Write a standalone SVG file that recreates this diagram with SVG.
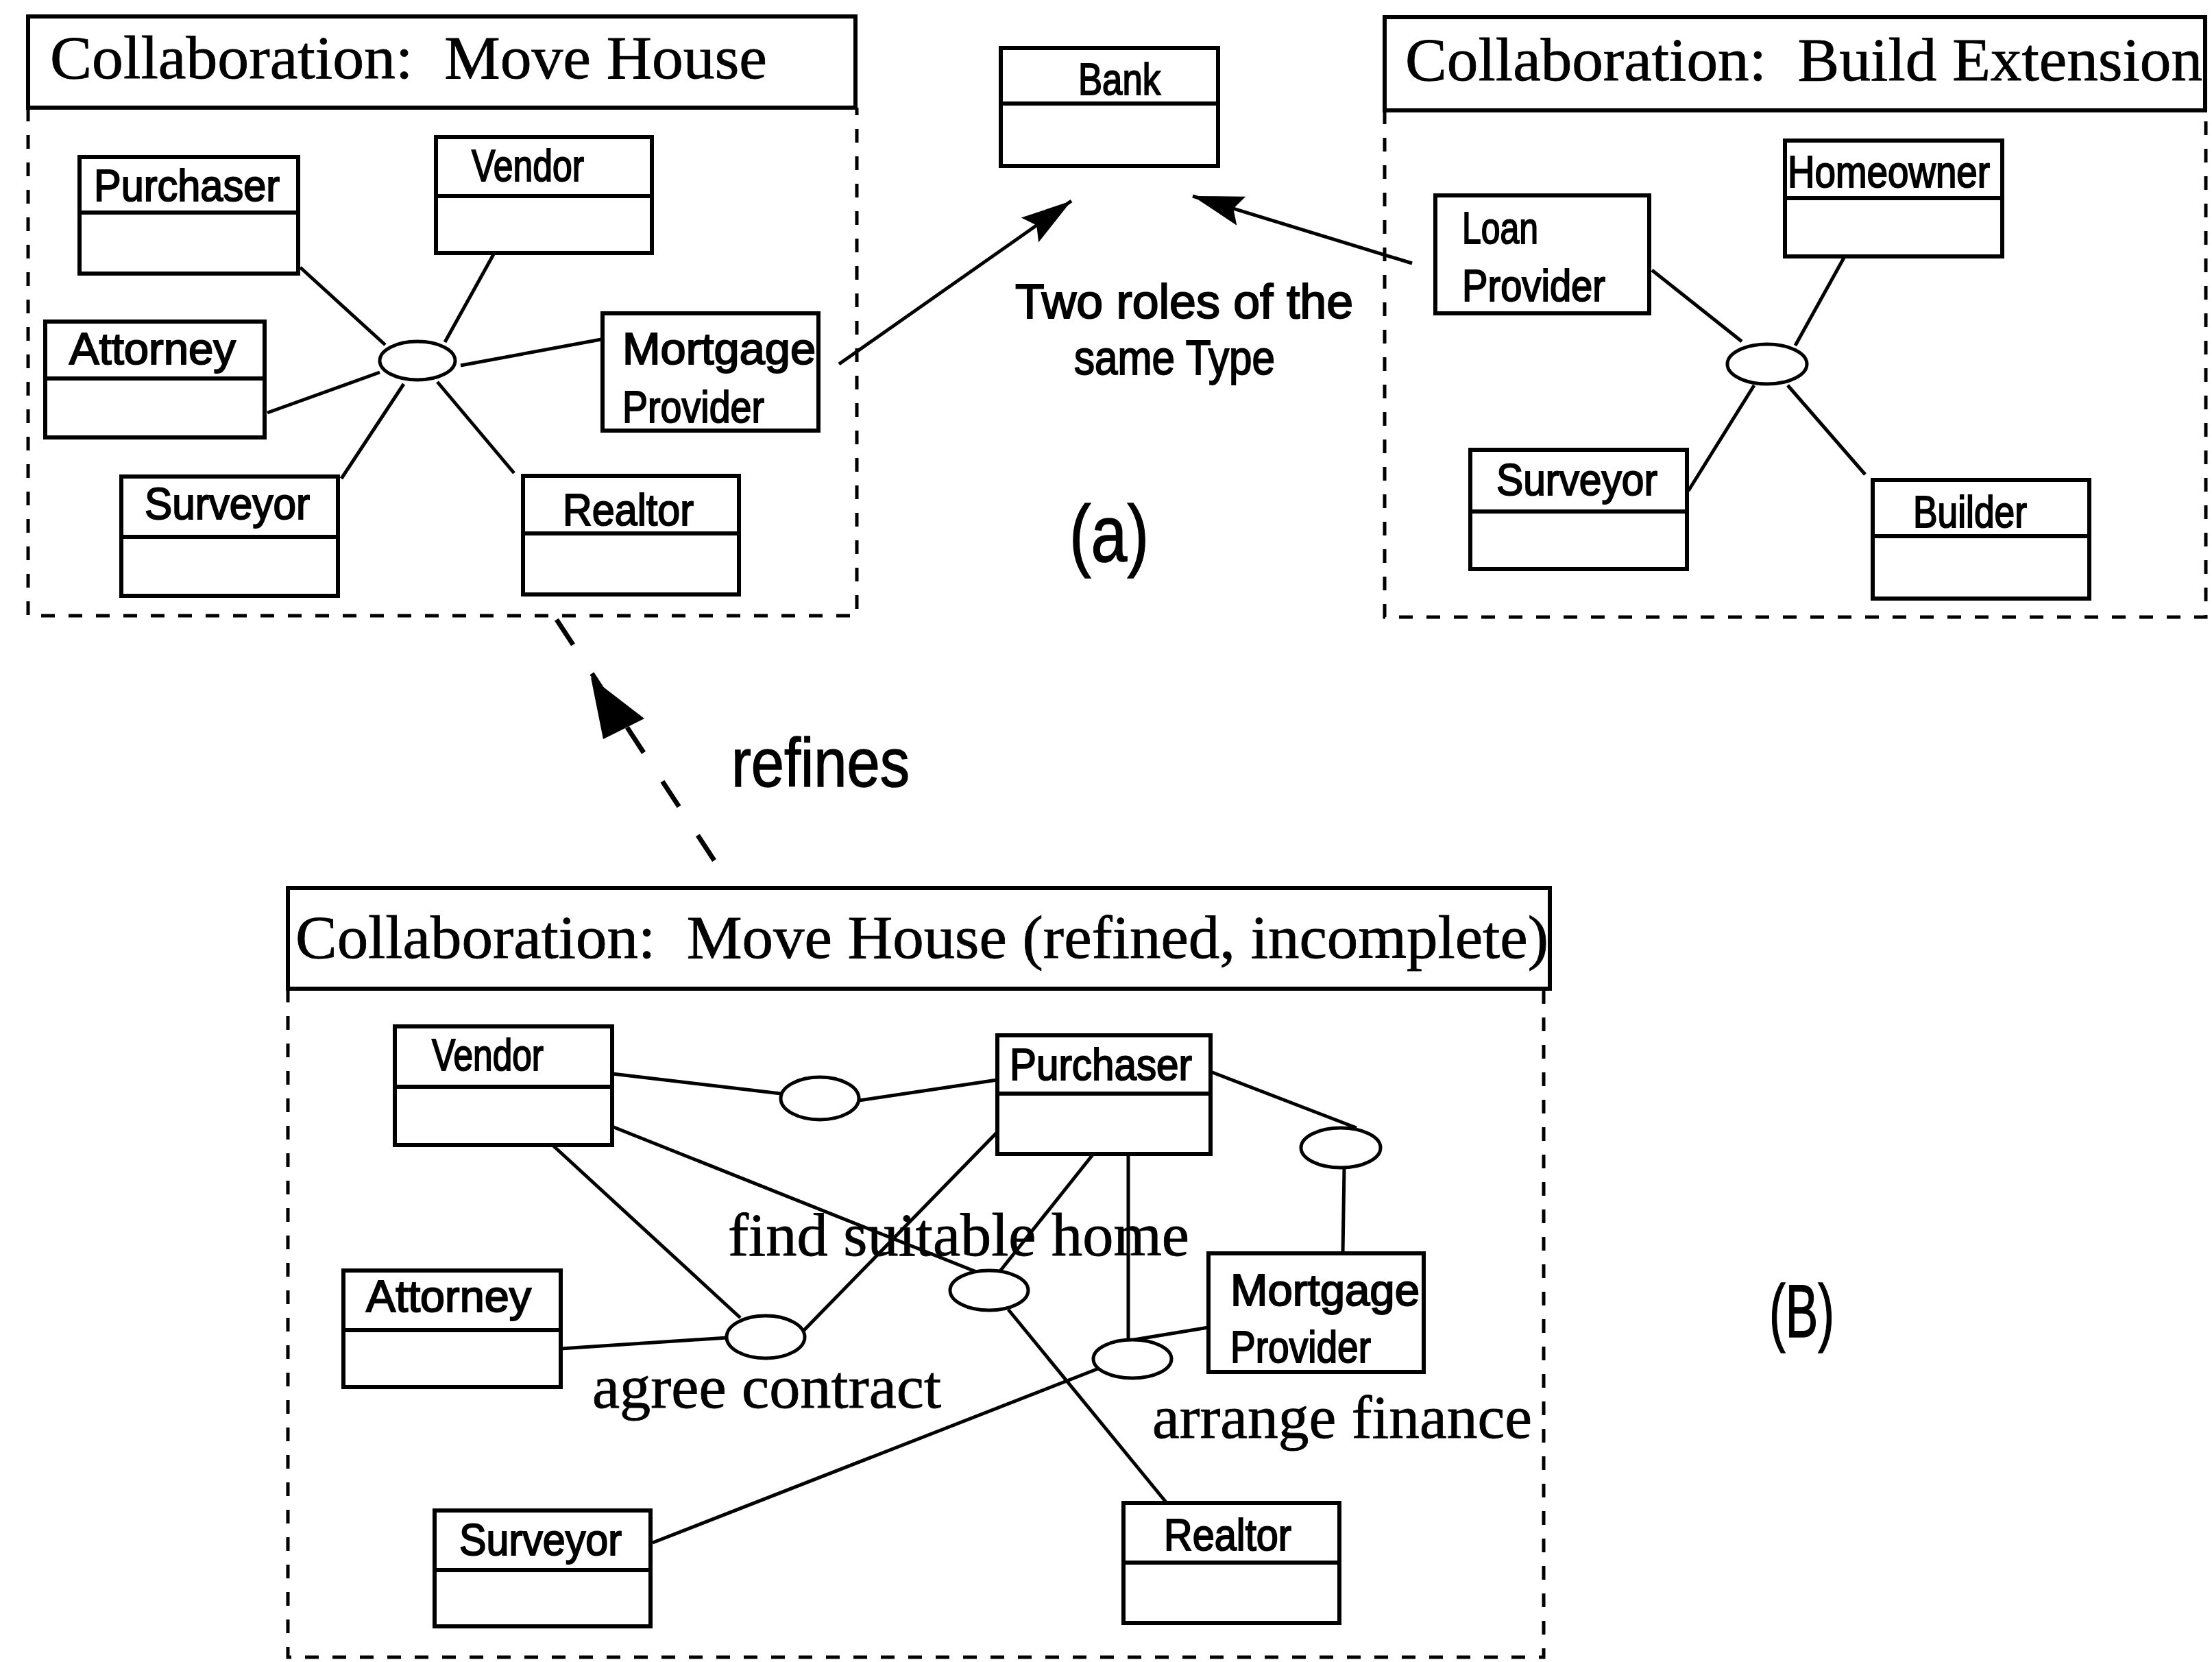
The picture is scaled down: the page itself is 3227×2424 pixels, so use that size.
<svg xmlns="http://www.w3.org/2000/svg" width="3227" height="2424" viewBox="0 0 3227 2424">
  <style>
    .box { fill: #fff; stroke: #000; stroke-width: 6; }
    .div { stroke: #000; stroke-width: 6; }
    .frame { fill: none; stroke: #000; stroke-width: 5; stroke-dasharray: 20 20; }
    .conn { fill: none; stroke: #000; stroke-width: 5; }
    .role { fill: #fff; stroke: #000; stroke-width: 5; }
    .serif { font-family: "Liberation Serif", "Times New Roman", serif; font-size: 88px; fill: #000; stroke: #000; stroke-width: 0.8; }
    .sans { font-family: "Liberation Sans", Arial, sans-serif; font-size: 64px; fill: #000; stroke: #000; stroke-width: 2; }
    .note { font-family: "Liberation Sans", Arial, sans-serif; font-size: 70px; fill: #000; stroke: #000; stroke-width: 2; }
    .tag { font-family: "Liberation Sans", Arial, sans-serif; font-size: 116px; fill: #000; stroke: #000; stroke-width: 1.5; }
  </style>
  <defs>
    <marker id="head" markerUnits="userSpaceOnUse" viewBox="0 -24 76 48" refX="74" refY="0" markerWidth="76" markerHeight="48" orient="auto">
      <path d="M0,-22 L74,0 L0,22 L12,0 Z" fill="#000"/>
    </marker>
  </defs>

  <rect width="3227" height="2424" fill="#fff"/>

  <!-- Collaboration frames -->
  <g id="collab-move-house">
    <rect class="box" x="41" y="24" width="1207" height="133"/>
    <path class="frame" d="M41,157 L41,898 L1250,898 L1250,157"/>
    <text class="serif" x="73" y="114" textLength="1046" lengthAdjust="spacingAndGlyphs" xml:space="preserve">Collaboration:  Move House</text>
  </g>
  <g id="collab-build-extension">
    <rect class="box" x="2020" y="25" width="1197" height="136"/>
    <path class="frame" d="M2020,161 L2020,900 L3218,900 L3218,161"/>
    <text class="serif" x="2050" y="117" textLength="1163" lengthAdjust="spacingAndGlyphs" xml:space="preserve">Collaboration:  Build Extension</text>
  </g>
  <g id="collab-move-house-refined">
    <rect class="box" x="420" y="1295" width="1841" height="147"/>
    <path class="frame" d="M420,1442 L420,2417 L2252,2417 L2252,1442"/>
    <text class="serif" x="431" y="1397" textLength="1828" lengthAdjust="spacingAndGlyphs" xml:space="preserve">Collaboration:  Move House (refined, incomplete)</text>
  </g>

  <!-- Connectors -->
  <g id="connectors">
    <!-- Move House -->
    <line class="conn" x1="438" y1="390" x2="562" y2="503"/>
    <line class="conn" x1="720" y1="371" x2="649" y2="499"/>
    <line class="conn" x1="672" y1="533" x2="877" y2="495"/>
    <line class="conn" x1="390" y1="602" x2="554" y2="543"/>
    <line class="conn" x1="589" y1="560" x2="498" y2="698"/>
    <line class="conn" x1="638" y1="557" x2="750" y2="690"/>
    <!-- Build Extension -->
    <line class="conn" x1="2410" y1="394" x2="2541" y2="498"/>
    <line class="conn" x1="2690" y1="376" x2="2619" y2="504"/>
    <line class="conn" x1="2559" y1="562" x2="2463" y2="716"/>
    <line class="conn" x1="2608" y1="562" x2="2721" y2="692"/>
    <!-- roles of the same type -->
    <line class="conn" x1="1224" y1="531" x2="1563" y2="293" marker-end="url(#head)"/>
    <line class="conn" x1="2060" y1="384" x2="1740" y2="286" marker-end="url(#head)"/>
    <!-- refines -->
    <line x1="1042" y1="1255" x2="805" y2="893" stroke="#000" stroke-width="7" stroke-dasharray="44 50"/>
    <polygon points="862,988 880,1078 940,1048" fill="#000"/>
    <!-- refined collaboration -->
    <line class="conn" x1="893" y1="1566" x2="1139" y2="1595"/>
    <line class="conn" x1="1253" y1="1605" x2="1455" y2="1575"/>
    <line class="conn" x1="893" y1="1643" x2="1427" y2="1856"/>
    <line class="conn" x1="806" y1="1670" x2="1080" y2="1922"/>
    <line class="conn" x1="1455" y1="1651" x2="1173" y2="1940"/>
    <line class="conn" x1="818" y1="1967" x2="1061" y2="1951"/>
    <line class="conn" x1="1595" y1="1683" x2="1458" y2="1855"/>
    <line class="conn" x1="1646" y1="1683" x2="1646" y2="1954"/>
    <line class="conn" x1="1654" y1="1954" x2="1763" y2="1936"/>
    <line class="conn" x1="1766" y1="1563" x2="1979" y2="1645"/>
    <line class="conn" x1="1961" y1="1703" x2="1959" y2="1828"/>
    <line class="conn" x1="952" y1="2250" x2="1605" y2="1995"/>
    <line class="conn" x1="1471" y1="1910" x2="1702" y2="2192"/>
  </g>

  <!-- Move House roles -->
  <g id="mh-purchaser">
    <rect class="box" x="116" y="229" width="319" height="170"/>
    <line class="div" x1="116" y1="310" x2="435" y2="310"/>
    <text class="sans" x="137" y="293" textLength="271" lengthAdjust="spacingAndGlyphs">Purchaser</text>
  </g>
  <g id="mh-vendor">
    <rect class="box" x="636" y="200" width="315" height="169"/>
    <line class="div" x1="636" y1="286" x2="951" y2="286"/>
    <text class="sans" x="688" y="264" textLength="164" lengthAdjust="spacingAndGlyphs">Vendor</text>
  </g>
  <g id="mh-attorney">
    <rect class="box" x="66" y="469" width="320" height="169"/>
    <line class="div" x1="66" y1="552" x2="386" y2="552"/>
    <text class="sans" x="101" y="531" textLength="243" lengthAdjust="spacingAndGlyphs">Attorney</text>
  </g>
  <g id="mh-mortgage-provider">
    <rect class="box" x="879" y="457" width="315" height="171"/>
    <text class="sans" x="908" y="531" textLength="282" lengthAdjust="spacingAndGlyphs">Mortgage</text>
    <text class="sans" x="908" y="616" textLength="207" lengthAdjust="spacingAndGlyphs">Provider</text>
  </g>
  <g id="mh-surveyor">
    <rect class="box" x="177" y="695" width="316" height="174"/>
    <line class="div" x1="177" y1="783" x2="493" y2="783"/>
    <text class="sans" x="211" y="757" textLength="241" lengthAdjust="spacingAndGlyphs">Surveyor</text>
  </g>
  <g id="mh-realtor">
    <rect class="box" x="763" y="694" width="315" height="173"/>
    <line class="div" x1="763" y1="778" x2="1078" y2="778"/>
    <text class="sans" x="821" y="766" textLength="191" lengthAdjust="spacingAndGlyphs">Realtor</text>
  </g>
  <g id="mh-collaboration-role">
    <ellipse class="role" cx="609" cy="526" rx="55" ry="28"/>
  </g>

  <!-- Bank type -->
  <g id="bank">
    <rect class="box" x="1460" y="70" width="317" height="172"/>
    <line class="div" x1="1460" y1="151" x2="1777" y2="151"/>
    <text class="sans" x="1573" y="138" textLength="120" lengthAdjust="spacingAndGlyphs">Bank</text>
  </g>
  <g id="note-two-roles">
    <text class="note" x="1481" y="464" textLength="493" lengthAdjust="spacingAndGlyphs">Two roles of the</text>
    <text class="note" x="1567" y="546" textLength="293" lengthAdjust="spacingAndGlyphs">same Type</text>
  </g>
  <text id="label-a" class="tag" x="1560" y="819" textLength="116" lengthAdjust="spacingAndGlyphs">(a)</text>

  <!-- Build Extension roles -->
  <g id="be-homeowner">
    <rect class="box" x="2604" y="205" width="317" height="169"/>
    <line class="div" x1="2604" y1="289" x2="2921" y2="289"/>
    <text class="sans" x="2608" y="273" textLength="295" lengthAdjust="spacingAndGlyphs">Homeowner</text>
  </g>
  <g id="be-loan-provider">
    <rect class="box" x="2094" y="285" width="312" height="172"/>
    <text class="sans" x="2133" y="355" textLength="111" lengthAdjust="spacingAndGlyphs">Loan</text>
    <text class="sans" x="2133" y="439" textLength="209" lengthAdjust="spacingAndGlyphs">Provider</text>
  </g>
  <g id="be-surveyor">
    <rect class="box" x="2145" y="656" width="316" height="174"/>
    <line class="div" x1="2145" y1="746" x2="2461" y2="746"/>
    <text class="sans" x="2183" y="722" textLength="235" lengthAdjust="spacingAndGlyphs">Surveyor</text>
  </g>
  <g id="be-builder">
    <rect class="box" x="2732" y="700" width="316" height="173"/>
    <line class="div" x1="2732" y1="782" x2="3048" y2="782"/>
    <text class="sans" x="2791" y="769" textLength="166" lengthAdjust="spacingAndGlyphs">Builder</text>
  </g>
  <g id="be-collaboration-role">
    <ellipse class="role" cx="2578" cy="531" rx="58" ry="29"/>
  </g>

  <text id="label-refines" class="tag" style="font-size:100px" x="1067" y="1147" textLength="260" lengthAdjust="spacingAndGlyphs">refines</text>

  <!-- Refined Move House roles -->
  <g id="mr-vendor">
    <rect class="box" x="576" y="1497" width="317" height="173"/>
    <line class="div" x1="576" y1="1585" x2="893" y2="1585"/>
    <text class="sans" x="630" y="1561" textLength="163" lengthAdjust="spacingAndGlyphs">Vendor</text>
  </g>
  <g id="mr-purchaser">
    <rect class="box" x="1455" y="1510" width="311" height="173"/>
    <line class="div" x1="1455" y1="1595" x2="1766" y2="1595"/>
    <text class="sans" x="1473" y="1575" textLength="266" lengthAdjust="spacingAndGlyphs">Purchaser</text>
  </g>
  <g id="mr-attorney">
    <rect class="box" x="501" y="1853" width="317" height="170"/>
    <line class="div" x1="501" y1="1940" x2="818" y2="1940"/>
    <text class="sans" x="534" y="1913" textLength="241" lengthAdjust="spacingAndGlyphs">Attorney</text>
  </g>
  <g id="mr-surveyor">
    <rect class="box" x="634" y="2203" width="315" height="169"/>
    <line class="div" x1="634" y1="2290" x2="949" y2="2290"/>
    <text class="sans" x="670" y="2268" textLength="237" lengthAdjust="spacingAndGlyphs">Surveyor</text>
  </g>
  <g id="mr-mortgage-provider">
    <rect class="box" x="1763" y="1828" width="314" height="173"/>
    <text class="sans" x="1795" y="1904" textLength="276" lengthAdjust="spacingAndGlyphs">Mortgage</text>
    <text class="sans" x="1795" y="1987" textLength="205" lengthAdjust="spacingAndGlyphs">Provider</text>
  </g>
  <g id="mr-realtor">
    <rect class="box" x="1639" y="2192" width="315" height="175"/>
    <line class="div" x1="1639" y1="2279" x2="1954" y2="2279"/>
    <text class="sans" x="1698" y="2261" textLength="186" lengthAdjust="spacingAndGlyphs">Realtor</text>
  </g>

  <g id="mr-sale">
    <ellipse class="role" cx="1196" cy="1602" rx="57" ry="31"/>
  </g>
  <g id="mr-mortgage-link">
    <ellipse class="role" cx="1956" cy="1674" rx="58" ry="29"/>
  </g>
  <g id="mr-find-suitable-home">
    <ellipse class="role" cx="1443" cy="1882" rx="57" ry="29"/>
    <text class="serif" x="1062" y="1831" textLength="673" lengthAdjust="spacingAndGlyphs">find suitable home</text>
  </g>
  <g id="mr-agree-contract">
    <ellipse class="role" cx="1117" cy="1950" rx="57" ry="31"/>
    <text class="serif" x="864" y="2053" textLength="509" lengthAdjust="spacingAndGlyphs">agree contract</text>
  </g>
  <g id="mr-arrange-finance">
    <ellipse class="role" cx="1652" cy="1982" rx="57" ry="28"/>
    <text class="serif" x="1681" y="2097" textLength="554" lengthAdjust="spacingAndGlyphs">arrange finance</text>
  </g>

  <text id="label-b" class="tag" style="font-size:110px" x="2581" y="1950" textLength="95" lengthAdjust="spacingAndGlyphs">(B)</text>
</svg>
